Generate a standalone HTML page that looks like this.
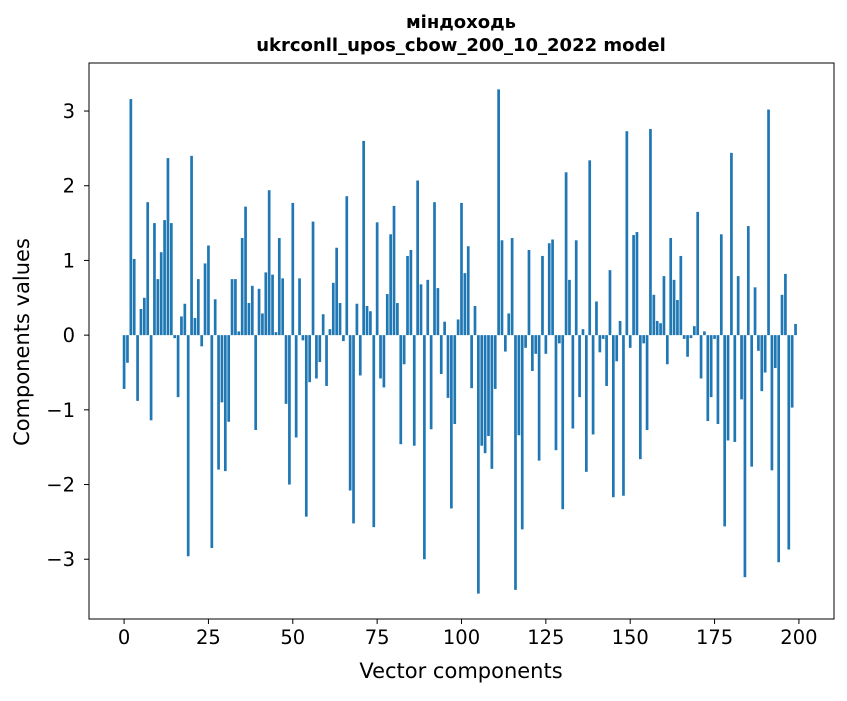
<!DOCTYPE html>
<html><head><meta charset="utf-8"><style>
body{margin:0;background:#fff;}
svg text{font-family:"DejaVu Sans","Liberation Sans",sans-serif;fill:#000;}
</style></head><body>
<svg id="chart" width="847" height="696" xmlns="http://www.w3.org/2000/svg">
<rect width="847" height="696" fill="#fff"/>
<text x="461" y="28" text-anchor="middle" font-size="18" font-weight="bold">міндоходь</text>
<text x="461" y="51" text-anchor="middle" font-size="18" font-weight="bold">ukrconll_upos_cbow_200_10_2022 model</text>
<g id="bars"></g>
<g id="axes"></g>
<text x="461" y="678" text-anchor="middle" font-size="21">Vector components</text>
<text transform="translate(29,342) rotate(-90)" text-anchor="middle" font-size="21">Components values</text>
</svg>
<script>
const values = [-0.72,-0.37,3.16,1.02,-0.88,0.35,0.5,1.78,-1.14,1.5,0.75,1.11,1.54,2.37,1.5,-0.04,-0.83,0.25,0.42,-2.96,
2.4,0.23,0.75,-0.15,0.96,1.2,-2.85,0.48,-1.8,-0.9,-1.82,-1.16,0.75,0.75,0.05,1.3,1.72,0.43,0.66,-1.27,
0.62,0.29,0.84,1.94,0.81,0.04,1.3,0.76,-0.92,-2.0,1.77,-1.37,0.76,-0.07,-2.43,-0.63,1.52,-0.58,-0.36,0.28,
-0.68,0.08,0.7,1.17,0.43,-0.08,1.86,-2.08,-2.52,0.42,-0.54,2.6,0.39,0.32,-2.57,1.51,-0.58,-0.7,0.55,1.35,
1.73,0.43,-1.46,-0.39,1.06,1.14,-1.48,2.07,0.68,-3.0,0.74,-1.26,1.78,0.63,-0.52,0.18,-0.84,-2.32,-1.19,0.21,
1.77,0.83,1.19,-0.71,0.39,-3.46,-1.48,-1.58,-1.35,-1.79,-0.72,3.29,1.27,-0.22,0.29,1.3,-3.41,-1.34,-2.6,-0.17,
1.14,-0.48,-0.25,-1.68,1.06,-0.25,1.23,1.28,-1.54,-0.11,-2.33,2.18,0.74,-1.25,1.27,-0.83,0.08,-1.83,2.34,-1.33,
0.45,-0.23,-0.05,-0.68,0.87,-2.17,-0.35,0.19,-2.15,2.73,-0.17,1.34,1.38,-1.66,-0.11,-1.27,2.76,0.54,0.19,0.16,
0.79,-0.39,1.3,0.74,0.47,1.06,-0.05,-0.29,-0.04,0.12,1.65,-0.58,0.05,-1.15,-0.83,-0.05,-1.19,1.35,-2.56,-1.41,
2.44,-1.43,0.79,-0.86,-3.24,1.46,-1.76,0.64,-0.21,-0.75,-0.5,3.02,-1.81,-0.44,-3.04,0.54,0.82,-2.87,-0.97,0.15];
const xTicks = [0,25,50,75,100,125,150,175,200];
const yTicks = [-3,-2,-1,0,1,2,3];

const L=89,R=834,T=63,B=619;
const xMin=-10.4,xMax=210.4,yMin=-3.8,yMax=3.643;
function xs(v){return L+(v-xMin)/(xMax-xMin)*(R-L);}
function ys(v){return B-(v-yMin)/(yMax-yMin)*(B-T);}
const NS="http://www.w3.org/2000/svg";
const bars=document.getElementById('bars');
values.forEach((v,i)=>{
  const r=document.createElementNS(NS,'rect');
  const x0=xs(i-0.4),x1=xs(i+0.4);
  const y0=ys(Math.max(v,0)),y1=ys(Math.min(v,0));
  r.setAttribute('x',x0);r.setAttribute('width',x1-x0);
  r.setAttribute('y',y0);r.setAttribute('height',Math.max(y1-y0,0.1));
  r.setAttribute('fill','#1f77b4');
  
  
  bars.appendChild(r);
});
const axes=document.getElementById('axes');
const frame=document.createElementNS(NS,'rect');
frame.setAttribute('x',L);frame.setAttribute('y',T);frame.setAttribute('width',R-L);frame.setAttribute('height',B-T);
frame.setAttribute('fill','none');frame.setAttribute('stroke','#000');frame.setAttribute('stroke-width','1');


axes.appendChild(frame);
xTicks.forEach(t=>{
  const x=xs(t);
  const l=document.createElementNS(NS,'line');
  l.setAttribute('x1',x);l.setAttribute('x2',x);l.setAttribute('y1',B);l.setAttribute('y2',B+5);l.setAttribute('stroke','#000');
  
  
  axes.appendChild(l);
  const tx=document.createElementNS(NS,'text');
  tx.setAttribute('x',x);tx.setAttribute('y',B+25);tx.setAttribute('text-anchor','middle');tx.setAttribute('font-size','19.5');
  tx.textContent=t;
  
  
  axes.appendChild(tx);
});
yTicks.forEach(t=>{
  const y=ys(t);
  const l=document.createElementNS(NS,'line');
  l.setAttribute('x1',L-5);l.setAttribute('x2',L);l.setAttribute('y1',y);l.setAttribute('y2',y);l.setAttribute('stroke','#000');
  
  
  axes.appendChild(l);
  const tx=document.createElementNS(NS,'text');
  tx.setAttribute('x',L-14);tx.setAttribute('y',y+7);tx.setAttribute('text-anchor','end');tx.setAttribute('font-size','19.5');
  tx.textContent=t<0?'\u2212'+Math.abs(t):String(t);
  
  
  axes.appendChild(tx);
});
</script>
</body></html>
